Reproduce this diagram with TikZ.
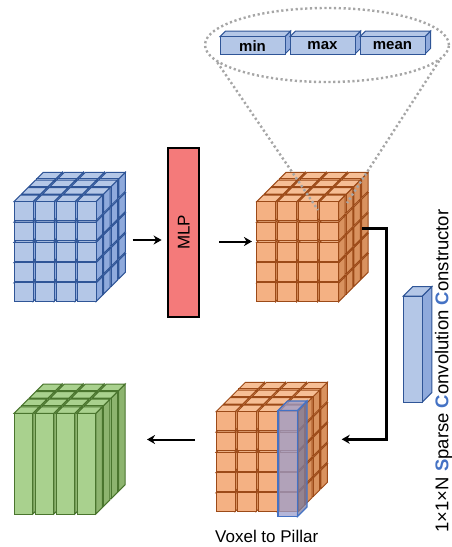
\documentclass[tikz,border=0pt]{standalone}
\usepackage{fontspec}
\setmainfont{Liberation Sans}
\usetikzlibrary{arrows,arrows.meta}
\usetikzlibrary{positioning}
\usetikzlibrary{shapes.geometric}

\definecolor{orfill}{HTML}{F4B183}
\definecolor{ortopc}{HTML}{F6BE95}
\definecolor{orsidec}{HTML}{D9925F}
\definecolor{orline}{HTML}{9C4A18}
\definecolor{blfill}{HTML}{B4C7E7}
\definecolor{blsidec}{HTML}{8FAADC}
\definecolor{blline}{HTML}{2F5597}
\definecolor{grfill}{HTML}{A9D18E}
\definecolor{grsidec}{HTML}{8DB46F}
\definecolor{grline}{HTML}{4A752E}
\definecolor{mlpred}{HTML}{F47A7A}
\definecolor{pooldot}{HTML}{A6A6A6}
\definecolor{hlblue}{HTML}{4472C4}
\definecolor{pillarc}{HTML}{9B9DCC}

% one small box: x, y (top left of front face), width, height, depth, style prefix
\newcommand{\voxbox}[6]{%
  \filldraw[#6side] (#1+#3,#2) -- ++(#5,-#5) -- ++(0,#4) -- ++(-#5,#5) -- cycle;
  \filldraw[#6top] (#1,#2) -- ++(#5,-#5) -- ++(#3,0) -- ++(-#5,#5) -- cycle;
  \filldraw[#6front] (#1,#2) rectangle ++(#3,#4);
}
% 4 x 5 x 4 voxel block
\newcommand{\voxblock}[3]{%
  \foreach \k in {3,2,1,0}
    \foreach \r in {4,3,2,1,0}
      \foreach \c in {0,1,2,3}
        {\voxbox{#1+\c*21+\k*7.6}{#2+\r*20.3-\k*7.6}{19}{18.8}{6.5}{#3}}
}

\begin{document}
\begin{tikzpicture}
	[x=1pt,y=-1pt,
	orfront/.style={fill=orfill,draw=orline,line width=1pt},
	ortop/.style={fill=ortopc,draw=orline,line width=1pt},
	orside/.style={fill=orsidec,draw=orline,line width=1pt},
	blfront/.style={fill=blfill,draw=blline,line width=1pt},
	bltop/.style={fill=blfill,draw=blline,line width=1pt},
	blside/.style={fill=blsidec,draw=blline,line width=1pt},
	grfront/.style={fill=grfill,draw=grline,line width=1pt},
	grtop/.style={fill=grfill,draw=grline,line width=1pt},
	grside/.style={fill=grsidec,draw=grline,line width=1pt},
	hlfront/.style={fill=pillarc,fill opacity=0.75,draw=hlblue,line width=1.1pt},
	hltop/.style={fill=pillarc,fill opacity=0.75,draw=hlblue,line width=1.1pt},
	hlside/.style={fill=pillarc!80!black,fill opacity=0.75,draw=hlblue,line width=1.1pt},
	flow/.style={-{Stealth[length=8pt,width=9pt,inset=2.5pt]},line width=2pt},
	dotline/.style={draw=pooldot,line width=2.4pt,dash pattern=on 2.2pt off 2.6pt},
	statlabel/.style={font=\fontsize{15}{18}\selectfont\bfseries,inner sep=0pt}]
	\useasboundingbox (0,0) rectangle (451,547);

	% voxel blocks
	\voxblock{14}{201.7}{bl}
	\voxblock{256.7}{201.7}{or}
	\voxblock{216}{411.7}{or}

	% pillars
	\foreach \k in {3,2,1,0}
	  \foreach \c in {0,1,2,3}
	    {\voxbox{14+\c*21+\k*7.6}{413.3-\k*7.6}{18.8}{100.7}{6.5}{gr}}

	% selected pillar
	\voxbox{278}{410.5}{19.5}{106}{9.5}{hl}

	% 1x1xN conv
	\voxbox{403.3}{296}{19}{106}{9.5}{bl}

	% min / max / mean
	\voxbox{220}{36.7}{65}{17.3}{5.5}{bl}
	\voxbox{290}{36.7}{65}{17.3}{5.5}{bl}
	\voxbox{360}{36.7}{65}{17.3}{5.5}{bl}
	\node[statlabel] (min) at (252.5,46) {min};
	\node[statlabel] (max) at (322.5,46) {max};
	\node[statlabel] (mean) at (392.5,46) {mean};

	\node[draw,fill=mlpred,line width=2.2pt,minimum width=31pt,minimum height=168.4pt,
	  inner sep=0pt,font=\fontsize{17}{19}\selectfont] (mlp) at (183.8,232.5) {\rotatebox{90}{MLP}};

	\node[ellipse,dotline,minimum width=244pt,minimum height=74pt] (pool) at (327,45) {};

	\node[rotate=90,font=\fontsize{18.5}{20}\selectfont,inner sep=0pt] (conv) at (443.5,371)
	  {1×1×N \textcolor{hlblue}{\textbf{S}}parse \textcolor{hlblue}{\textbf{C}}onvolution \textcolor{hlblue}{\textbf{C}}onstructor};
	\node[font=\fontsize{17}{20}\selectfont,inner sep=0pt] (v2p) at (266.7,536.5) {Voxel to Pillar};

	\coordinate (blue-e) at (132.7,240);
	\coordinate (cube-w) at (252,241.5);
	\coordinate (cube-e) at (362,228.3);
	\coordinate (bend) at (386.5,439.3);
	\coordinate (pillar-e) at (341.7,439.3);
	\coordinate (pillar-w) at (195,439.5);
	\coordinate (pillars-e) at (147,439.5);
	\coordinate (pil-a) at (318,210);
	\coordinate (pil-b) at (347,203);

	\draw[flow,shorten >=5.6pt] (blue-e) -- (blue-e -| mlp.west);
	\draw[flow,shorten <=18.7pt] (cube-w -| mlp.east) -- (cube-w);
	\draw[flow,line width=2.5pt] (cube-e) -| (bend) -- (pillar-e);
	\draw[flow] (pillar-w) -- (pillars-e);

	\draw[dotline] (pool.189) -- (pil-a);
	\draw[dotline] (pool.352) -- (pil-b);
\end{tikzpicture}
\end{document}
